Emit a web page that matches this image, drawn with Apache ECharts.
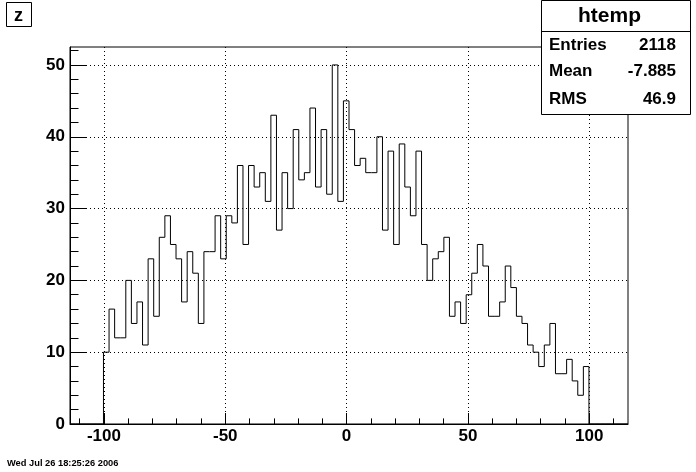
<!DOCTYPE html>
<html><head><meta charset="utf-8">
<script src="https://cdn.jsdelivr.net/npm/echarts@6/dist/echarts.min.js"></script>
<style>html,body{margin:0;padding:0;background:#fff}#c{width:696px;height:472px}</style>
</head><body><div id="c"></div>
<script>
// Histogram axis range and binning
const xMin = -114, xMax = 116, binWidth = 2.3;
const yMax = 52.5;
// bin contents (100 bins)
const binCounts = [0,0,0,0,0,0,
  10,16,12,12,20,14,17,11,23,15,26,29,25,23,17,24,21,14,24,24,29,23,
  29,28,36,25,36,33,35,31,43,27,35,30,41,34,35,44,33,41,32,50,31,45,
  41,36,37,35,35,40,27,38,25,39,33,29,38,25,20,23,24,26,15,17,14,18,
  21,25,22,15,15,17,22,19,15,14,11,10,8,11,14,7,7,9,6,4,8,
  0,0,0,0,0,0,0];
const xMajorTicks = [-100, -50, 0, 50, 100];
const xMinorTicks = [-110,-90,-80,-70,-60,-40,-30,-20,-10,10,20,30,40,60,70,80,90,110];
const yMajorTicks = [0, 10, 20, 30, 40, 50];
const yMinorTicks = [2,4,6,8,12,14,16,18,22,24,26,28,32,34,36,38,42,44,46,48,52];
const histTitle = 'z';
const statsName = 'htemp';
const statsLabels = ['Entries', 'Mean', 'RMS'];
const statsValues = ['2118', '-7.885', '46.9'];
const dateText = 'Wed Jul 26 18:25:26 2006';

const FONT = "'Liberation Sans', Arial, Helvetica, sans-serif";
const stepData = binCounts.map((c, i) => [xMin + i * binWidth, c]);
stepData.push([xMax, binCounts[binCounts.length - 1]]);

const gridPos = {left: 70, right: 68, top: 47, bottom: 48};
const chart = echarts.init(document.getElementById('c'), null, {renderer: 'canvas'});

const statRowsY = [45, 71.5, 99.5];
const txt = (size) => ({fontFamily: FONT, fontWeight: 'bold', fontSize: size, fill: '#000'});

chart.setOption({
  animation: false,
  backgroundColor: '#fff',
  grid: [
    Object.assign({show: true, borderColor: '#000', borderWidth: 1, backgroundColor: 'transparent'}, gridPos),
    Object.assign({show: false}, gridPos)
  ],
  xAxis: [
    {type: 'value', gridIndex: 0, min: xMin, max: xMax, position: 'bottom',
     axisLine: {show: true, onZero: false, lineStyle: {color: '#000', width: 1}},
     axisTick: {show: true, inside: true, length: 11, customValues: xMajorTicks, lineStyle: {color: '#000'}},
     axisLabel: {show: true, customValues: xMajorTicks, color: '#000', fontFamily: FONT, fontWeight: 'bold', fontSize: 17, margin: 4},
     splitLine: {show: true, lineStyle: {color: '#000', type: [1, 3], width: 1}},
     minorTick: {show: false}},
    {type: 'value', gridIndex: 1, min: xMin, max: xMax, position: 'bottom',
     axisLine: {show: false, onZero: false},
     axisTick: {show: true, inside: true, length: 5.6, customValues: xMinorTicks, lineStyle: {color: '#000'}},
     axisLabel: {show: false}, splitLine: {show: false}}
  ],
  yAxis: [
    {type: 'value', gridIndex: 0, min: 0, max: yMax, position: 'left',
     axisLine: {show: true, onZero: false, lineStyle: {color: '#000', width: 1}},
     axisTick: {show: true, inside: true, length: 17, customValues: yMajorTicks, lineStyle: {color: '#000'}},
     axisLabel: {show: true, customValues: yMajorTicks, color: '#000', fontFamily: FONT, fontWeight: 'bold', fontSize: 17, margin: 5},
     splitLine: {show: true, lineStyle: {color: '#000', type: [1, 3], width: 1}}},
    {type: 'value', gridIndex: 1, min: 0, max: yMax, position: 'left',
     axisLine: {show: false, onZero: false},
     axisTick: {show: true, inside: true, length: 8.5, customValues: yMinorTicks, lineStyle: {color: '#000'}},
     axisLabel: {show: false}, splitLine: {show: false}}
  ],
  series: [{
    type: 'line', xAxisIndex: 0, yAxisIndex: 0, data: stepData, step: 'end',
    symbol: 'none', clip: true, lineStyle: {color: '#000', width: 1}, z: 5
  }],
  graphic: [
    {type: 'rect', shape: {x: 6.5, y: 2.5, width: 25, height: 24}, style: {fill: '#fff', stroke: '#000', lineWidth: 1}},
    {type: 'text', x: 18.5, y: 16, style: Object.assign(txt(18), {text: histTitle, textAlign: 'center', textVerticalAlign: 'middle'})},
    {type: 'rect', shape: {x: 541.5, y: 0.5, width: 149, height: 114}, style: {fill: '#fff', stroke: '#000', lineWidth: 1}, z: 10},
    {type: 'line', shape: {x1: 541.5, y1: 31.5, x2: 690.5, y2: 31.5}, style: {stroke: '#000', lineWidth: 1}, z: 11},
    {type: 'text', x: 609.5, y: 16.5, z: 11, style: Object.assign(txt(21), {text: statsName, textAlign: 'center', textVerticalAlign: 'middle'})},
    ...statsLabels.map((l, i) => ({type: 'text', x: 549, y: statRowsY[i], z: 11,
      style: Object.assign(txt(17), {text: l, textAlign: 'left', textVerticalAlign: 'middle'})})),
    ...statsValues.map((v, i) => ({type: 'text', x: 676, y: statRowsY[i], z: 11,
      style: Object.assign(txt(17), {text: v, textAlign: 'right', textVerticalAlign: 'middle'})})),
    {type: 'text', x: 7, y: 463, style: Object.assign(txt(9.3), {text: dateText, textAlign: 'left', textVerticalAlign: 'middle'})}
  ]
});
</script></body></html>
